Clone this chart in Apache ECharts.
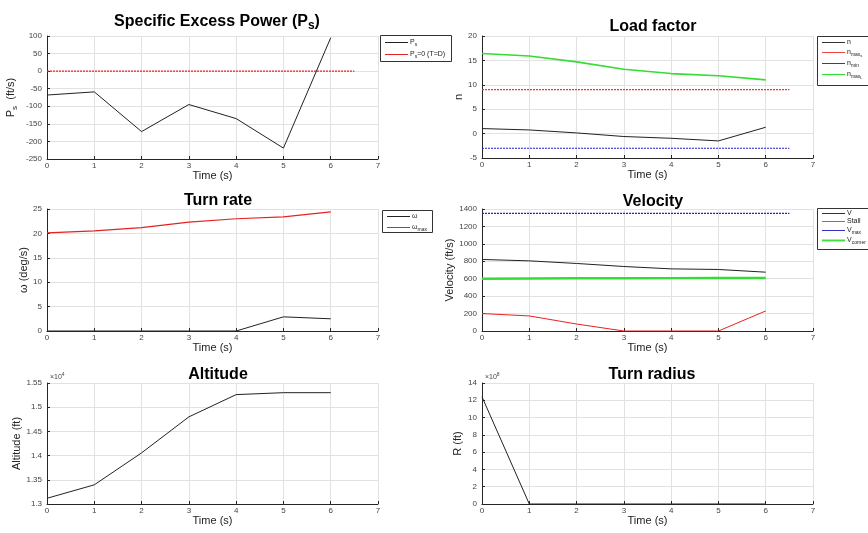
<!DOCTYPE html>
<html>
<head>
<meta charset="utf-8">
<script src="https://cdn.jsdelivr.net/npm/echarts@6/dist/echarts.min.js"></script>
<style>
  html, body { margin: 0; padding: 0; background: #fff; }
  #c { width: 868px; height: 533px; }
</style>
</head>
<body>
<div id="c"></div>
<script>
// ---- flight data (time step 1 s) ----
const time = [0, 1, 2, 3, 4, 5, 6];
const refSpan = [0, 6.5];                 // time span of the constant limit lines

const ps        = [-68, -59, -172, -95, -135, -219, 95];
const psZero    = 0;

const nLoad     = [1.03, 0.75, 0.14, -0.6, -0.96, -1.5, 1.3];
const nMaxS     = 9;
const nMin      = -3;
const nMaxL     = [16.4, 15.9, 14.7, 13.2, 12.3, 11.85, 11.0];

const omega     = [0, 0, 0, 0, 0, 2.9, 2.5];
const omegaMax  = [20.1, 20.5, 21.2, 22.3, 23.0, 23.4, 24.4];

const vel       = [821, 805, 775, 740, 713, 706, 675];
const stall     = [200, 173, 80, 0, 0, 0, 230];
const vMax      = 1350;
const vCorner   = [600, 603, 605, 606, 607, 608, 609];

const altitude  = [13118, 13396, 14056, 14800, 15260, 15300, 15300];
const radius    = [12.4e8, 0, 0, 0, 0, 1.4e4, 1.6e4];

// ---- layout ----
const grids = [
  { left: 47,  top: 36,  width: 331, height: 123 },
  { left: 482, top: 36,  width: 331, height: 122 },
  { left: 47,  top: 209, width: 331, height: 122 },
  { left: 482, top: 209, width: 331, height: 122 },
  { left: 47,  top: 383, width: 331, height: 121 },
  { left: 482, top: 383, width: 331, height: 121 }
];

const AXIS = '#262626';
const GRIDC = '#e2e2e2';
const LABEL = '#444';

const BLACK = '#222', RED = '#e52222', BLUE = '#2222cc', GREEN = '#33dd33';

const subRich = {
  sub: { fontSize: 8, lineHeight: 8, padding: [7, 0, 0, 0], verticalAlign: 'bottom', color: '#222' },
  m:   { fontSize: 11, lineHeight: 14, verticalAlign: 'top', color: '#222' }
};

function xAxis(i) {
  return {
    type: 'value', gridIndex: i, min: 0, max: 7, interval: 1,
    name: 'Time (s)', nameLocation: 'middle', nameGap: 10,
    nameTextStyle: { fontSize: 11, color: '#222', fontFamily: 'Liberation Sans' },
    axisLine: { show: true, onZero: false, lineStyle: { color: AXIS, width: 1 } },
    axisTick: { show: true, inside: true, length: 3, lineStyle: { color: AXIS } },
    axisLabel: { fontSize: 8, color: LABEL, margin: 3, fontFamily: 'Liberation Sans', formatter: v => String(v) },
    splitLine: { show: true, lineStyle: { color: GRIDC, width: 1 } }
  };
}

function yAxis(i, min, max, interval, name, gap, fmt) {
  return {
    type: 'value', gridIndex: i, min: min, max: max, interval: interval,
    name: name, nameLocation: 'middle', nameGap: gap, nameRotate: 90,
    nameTextStyle: { fontSize: 11, color: '#222', fontFamily: 'Liberation Sans', rich: subRich },
    axisLine: { show: true, onZero: false, lineStyle: { color: AXIS, width: 1 } },
    axisTick: { show: true, inside: true, length: 3, lineStyle: { color: AXIS } },
    axisLabel: { fontSize: 8, color: LABEL, margin: 5, fontFamily: 'Liberation Sans', formatter: fmt || (v => String(v)) },
    splitLine: { show: true, lineStyle: { color: GRIDC, width: 1 } }
  };
}

function pairs(xs, ys) { return xs.map((x, k) => [x, ys[k]]); }
function flat(v) { return refSpan.map(x => [x, v]); }

function line(name, gi, data, color, width, dash) {
  return {
    type: 'line', name: name, xAxisIndex: gi, yAxisIndex: gi,
    data: data, symbol: 'none', animation: false, silent: true,
    lineStyle: { color: color, width: width, type: dash || 'solid' },
    itemStyle: { color: color }
  };
}

// ---- legend boxes: [rich label, key colour, key thickness] per row ----
const legendRich = {
  m:  { fontSize: 7, lineHeight: 11, fill: '#222', fontFamily: 'Liberation Sans' },
  s:  { fontSize: 5, lineHeight: 5, padding: [5, 0, 0, 0], verticalAlign: 'top', fill: '#222', fontFamily: 'Liberation Sans' },
  ss: { fontSize: 4, lineHeight: 4, padding: [7, 0, 0, 0], verticalAlign: 'top', fill: '#222', fontFamily: 'Liberation Sans' }
};

function legendBox(x, y, w, h, rowYs, rows) {
  const children = [{
    type: 'rect', shape: { x: x + 0.5, y: y + 0.5, width: w, height: h },
    style: { fill: '#fff', stroke: '#333', lineWidth: 1 }, silent: true
  }];
  rows.forEach((r, k) => {
    const ry = rowYs[k];
    children.push({
      type: 'line', silent: true,
      shape: { x1: x + 5, y1: ry + 0.5, x2: x + 28, y2: ry + 0.5 },
      style: { stroke: r[1], lineWidth: r[2] }
    });
    children.push({
      type: 'text', silent: true, x: x + 30, y: ry + 0.5,
      style: { text: r[0], fontSize: 7, fill: '#222', fontFamily: 'Liberation Sans',
               align: 'left', verticalAlign: 'middle', rich: legendRich }
    });
  });
  return { type: 'group', children: children };
}

function title(text, cx, top) {
  return {
    text: text, left: cx, top: top, textAlign: 'center',
    textStyle: {
      fontSize: 16, fontWeight: 'bold', color: '#000', fontFamily: 'Liberation Sans',
      rich: {
        b: { fontSize: 16, fontWeight: 'bold', color: '#000', lineHeight: 18, verticalAlign: 'top' },
        s: { fontSize: 12, fontWeight: 'bold', color: '#000', lineHeight: 12, padding: [10, 0, 0, 0], verticalAlign: 'bottom' }
      }
    }
  };
}

const option = {
  backgroundColor: '#fff',
  animation: false,
  title: [
    title('{b|Specific Excess Power (P}{s|s}{b|)}', 212, 9),
    title('Load factor', 648, 14),
    title('Turn rate', 213, 188),
    title('Velocity', 648, 189),
    title('Altitude', 213, 362),
    title('Turn radius', 647, 362)
  ],
  grid: grids,
  xAxis: [0, 1, 2, 3, 4, 5].map(xAxis),
  yAxis: [
    yAxis(0, -250, 100, 50, '{m|P}{sub|s}{m|  (ft/s)}', 28),
    yAxis(1, -5, 20, 5, 'n', 18),
    yAxis(2, 0, 25, 5, 'ω (deg/s)', 18),
    yAxis(3, 0, 1400, 200, 'Velocity (ft/s)', 27),
    yAxis(4, 13000, 15500, 500, 'Altitude (ft)', 24, v => String(+(v / 1e4).toFixed(2))),
    yAxis(5, 0, 14e8, 2e8, 'R (ft)', 19, v => String(Math.round(v / 1e8)))
  ],
  graphic: [
    legendBox(380, 35, 71, 26, [42, 54], [
      ['{m|P}{s|s}', BLACK, 1],
      ['{m|P}{s|s}{m|=0 (T=D)}', RED, 1]
    ]),
    legendBox(817, 36, 60, 49, [42, 52, 63, 74], [
      ['{m|n}', '#333', 1],
      ['{m|n}{s|max}{ss|s}', '#ee4444', 1],
      ['{m|n}{s|min}', '#3333cc', 1],
      ['{m|n}{s|max}{ss|L}', GREEN, 1.2]
    ]),
    legendBox(382, 210, 50, 22, [216, 227], [
      ['{m|ω}', BLACK, 1],
      ['{m|ω}{s|max}', RED, 1]
    ]),
    legendBox(817, 208, 60, 41, [213, 221, 230, 240], [
      ['{m|V}', '#333', 1],
      ['{m|Stall}', '#ee4444', 1],
      ['{m|V}{s|max}', '#3333cc', 1],
      ['{m|V}{s|corner}', '#44dd44', 2]
    ]),
    { type: 'text', left: 50, top: 372, style: { text: '×10{e|4}', fontSize: 7, fill: '#444', fontFamily: 'Liberation Sans',
      rich: { e: { fontSize: 5, fill: '#444', padding: [0, 0, 5, 0] } } } },
    { type: 'text', left: 485, top: 372, style: { text: '×10{e|8}', fontSize: 7, fill: '#444', fontFamily: 'Liberation Sans',
      rich: { e: { fontSize: 5, fill: '#444', padding: [0, 0, 5, 0] } } } }
  ],
  series: [
    line('Ps0', 0, flat(psZero), '#ee2222', 1.4, [2, 1]),
    line('Ps', 0, pairs(time, ps), BLACK, 1),

    line('nMaxS', 1, flat(nMaxS), '#ee3333', 1.2, [2, 1]),
    line('nMin', 1, flat(nMin), BLUE, 1.2, [2, 1]),
    line('nMaxL', 1, pairs(time, nMaxL), GREEN, 1.6),
    line('n', 1, pairs(time, nLoad), BLACK, 1),

    line('omegaMax', 2, pairs(time, omegaMax), RED, 1.2),
    line('omega', 2, pairs(time, omega), BLACK, 1),

    line('Vmax', 3, flat(vMax), BLUE, 1.2, [2, 1]),
    line('Vcorner', 3, pairs(time, vCorner), GREEN, 2.4),
    line('V', 3, pairs(time, vel), BLACK, 1),
    line('Stall', 3, pairs(time, stall), RED, 1),

    line('alt', 4, pairs(time, altitude), BLACK, 1),
    line('R', 5, pairs(time, radius), BLACK, 1)
  ]
};

echarts.init(document.getElementById('c'), null, { renderer: 'canvas' }).setOption(option);
</script>
</body>
</html>
